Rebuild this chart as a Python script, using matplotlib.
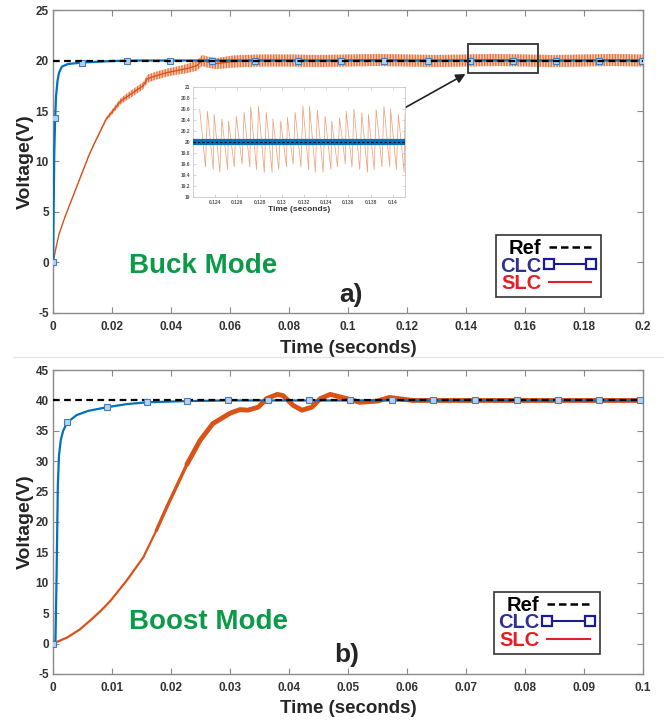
import numpy as np
import matplotlib
matplotlib.use('Agg')
import matplotlib.pyplot as plt
from matplotlib.lines import Line2D
from matplotlib.patches import Rectangle

plt.rcParams['font.family'] = ['Liberation Sans', 'DejaVu Sans']
plt.rcParams['font.weight'] = 'bold'
plt.rcParams['axes.unicode_minus'] = False

# ---------------- data (a) buck mode ----------------
ref_a = 20
clc_a_t = [0, 0.0002, 0.0004, 0.0007, 0.001, 0.0015, 0.002, 0.003, 0.005, 0.0098, 0.02, 0.03, 0.2]
clc_a_v = [0, 6, 11, 14.3, 16.5, 18.0, 18.8, 19.4, 19.65, 19.8, 19.95, 20, 20]
clc_a_mark_t = [0, 0.0007, 0.0098, 0.0251, 0.0397, 0.0539, 0.0685, 0.0831, 0.0976,
                0.1122, 0.1271, 0.1414, 0.1559, 0.1705, 0.1851, 0.1997]
clc_a_mark_v = [0, 14.3, 19.8, 19.95, 20, 20, 20, 20, 20, 20, 20, 20, 20, 20, 20, 20]

slc_a_t = [0, 0.001, 0.002, 0.004, 0.006, 0.008, 0.01, 0.012, 0.014, 0.016, 0.018,
           0.02, 0.023, 0.027, 0.0305, 0.032, 0.035, 0.0386, 0.042, 0.0454, 0.0488,
           0.0505, 0.053, 0.0556, 0.061, 0.07, 0.08, 0.09, 0.1, 0.11, 0.12, 0.13,
           0.14, 0.15, 0.16, 0.17, 0.18, 0.19, 0.2]
slc_a_v = [0, 1.5, 2.8, 4.5, 6.0, 7.5, 9.0, 10.5, 11.8, 13.0, 14.2,
           14.9, 16.0, 16.8, 17.5, 18.2, 18.5, 18.8, 19.0, 19.2, 19.5,
           20.0, 19.8, 19.7, 19.9, 20.0, 20.0, 19.95, 20.0, 20.05, 20.0, 19.95,
           20.0, 20.05, 20.0, 19.95, 20.0, 20.05, 20.0]
slc_a_half = [0, 0, 0, 0.05, 0.05, 0.08, 0.1, 0.1, 0.12, 0.14, 0.16,
              0.25, 0.3, 0.35, 0.35, 0.4, 0.4, 0.4, 0.4, 0.45, 0.5,
              0.55, 0.55, 0.55, 0.6, 0.6, 0.6, 0.6, 0.6, 0.6, 0.6, 0.6,
              0.6, 0.6, 0.6, 0.6, 0.6, 0.6, 0.6]

# inset ripple (zoomed window), one peak and one trough per switching cycle
ripple_peak_t = [0.1226, 0.1233, 0.1239, 0.1246, 0.1252, 0.1259, 0.1266, 0.1272,
                 0.1279, 0.1286, 0.1292, 0.1299, 0.1305, 0.1312, 0.1319, 0.1325,
                 0.1332, 0.1339, 0.1345, 0.1352, 0.1358, 0.1365, 0.1372, 0.1378,
                 0.1385, 0.1392, 0.1398, 0.1405, 0.1411]
ripple_peak_v = [20.60, 20.56, 20.50, 20.42, 20.38, 20.47, 20.54, 20.64, 20.65,
                 20.54, 20.42, 20.38, 20.45, 20.54, 20.65, 20.65, 20.58, 20.47,
                 20.38, 20.44, 20.56, 20.60, 20.53, 20.50, 20.59, 20.65, 20.60,
                 20.50, 20.53]
ripple_trough_v = [19.55, 19.50, 19.45, 19.50, 19.55, 19.60, 19.55, 19.50, 19.45,
                   19.45, 19.50, 19.55, 19.60, 19.55, 19.50, 19.45, 19.45, 19.50,
                   19.55, 19.60, 19.55, 19.50, 19.45, 19.50, 19.55, 19.55, 19.50,
                   19.45, 19.50]

# ---------------- data (b) boost mode ----------------
ref_b = 40
clc_b_t = [0, 0.0004, 0.0006, 0.0008, 0.001, 0.0013, 0.0017, 0.0024, 0.004, 0.006,
           0.0092, 0.0125, 0.0159, 0.0227, 0.0297, 0.04, 0.1]
clc_b_v = [0, 0.5, 12, 26, 31, 33.5, 35, 36.4, 37.6, 38.3, 38.9, 39.4, 39.7, 39.9, 40, 40, 40]
clc_b_mark_t = [0, 0.0024, 0.0092, 0.0159, 0.0227, 0.0297, 0.0364, 0.0434, 0.0503,
                0.0575, 0.0644, 0.0715, 0.0786, 0.0856, 0.0925, 0.0995]
clc_b_mark_v = [0, 36.4, 38.9, 39.7, 39.9, 40, 40, 40, 40, 40, 40, 40, 40, 40, 40, 40]

slc_b_t = [0, 0.0024, 0.0045, 0.0063, 0.008, 0.0097, 0.0125, 0.0153, 0.0175, 0.0193,
           0.0227, 0.0249, 0.0271, 0.030, 0.0317, 0.033, 0.0348, 0.0362, 0.038, 0.039,
           0.0407, 0.0422, 0.0439, 0.0453, 0.047, 0.0498, 0.052, 0.055, 0.057, 0.061,
           0.065, 0.07, 0.08, 0.09, 0.1]
slc_b_v = [0, 1, 2.3, 3.8, 5.3, 7, 10.4, 14.2, 18.6, 22.5,
           29.5, 33.4, 36.2, 37.9, 38.5, 38.4, 38.9, 40.3, 41, 40.8,
           39.2, 38.4, 38.9, 40.3, 41, 40.3, 39.7, 39.9, 40.5, 40,
           40, 40, 40, 40, 40]

xt_a = [0, 0.02, 0.04, 0.06, 0.08, 0.1, 0.12, 0.14, 0.16, 0.18, 0.2]
xt_a_lab = ['0', '0.02', '0.04', '0.06', '0.08', '0.1', '0.12', '0.14', '0.16', '0.18', '0.2']
xt_b = [0, 0.01, 0.02, 0.03, 0.04, 0.05, 0.06, 0.07, 0.08, 0.09, 0.1]
xt_b_lab = ['0', '0.01', '0.02', '0.03', '0.04', '0.05', '0.06', '0.07', '0.08', '0.09', '0.1']
xt_in = [0.124, 0.126, 0.128, 0.13, 0.132, 0.134, 0.136, 0.138, 0.14]
xt_in_lab = ['0.124', '0.126', '0.128', '0.13', '0.132', '0.134', '0.136', '0.138', '0.14']
yt_in = [19, 19.2, 19.4, 19.6, 19.8, 20, 20.2, 20.4, 20.6, 20.8, 21]
yt_in_lab = ['19', '19.2', '19.4', '19.6', '19.8', '20', '20.2', '20.4', '20.6', '20.8', '21']

# ---------------- style ----------------
c_blue = '#0072BD'
c_mface = '#b4d2ee'
c_medge = '#3f7fc0'
c_orange = '#D95319'
c_band = '#f3b592'
c_green = '#0a9a48'
c_spine = '#8a8a8a'
c_tick = '#333333'

fig = plt.figure(figsize=(6.64, 7.2), dpi=100)
ax1 = fig.add_axes([0.080, 0.5653, 0.888, 0.4208])
ax2 = fig.add_axes([0.080, 0.064, 0.888, 0.422])


def style(ax):
    for s in ax.spines.values():
        s.set_color(c_spine)
        s.set_linewidth(1.0)
    ax.tick_params(direction='in', top=True, right=True, length=4, width=0.8,
                   color=c_spine, labelsize=8.5, labelcolor=c_tick)
    ax.tick_params(axis='x', pad=6)
    ax.tick_params(axis='y', pad=3)
    for lab in ax.get_xticklabels() + ax.get_yticklabels():
        lab.set_fontweight('bold')


def legend(ax, anchor):
    h = [Line2D([], [], color='black', ls=(0, (3, 1.6)), lw=1.8),
         Line2D([], [], color='#1a1a9a', lw=1.5, marker='s', ms=7,
                mfc='white', mec='#1a1a9a', mew=1.6),
         Line2D([], [], color='#e31e24', lw=1.5)]
    leg = ax.legend(h, ['Ref', 'CLC', 'SLC'], loc='lower right',
                    bbox_to_anchor=anchor, numpoints=2, markerfirst=False,
                    prop={'weight': 'bold', 'size': 14.5},
                    labelcolor=['black', '#2e3192', '#e31e24'],
                    handlelength=2.7, handletextpad=0.1, labelspacing=-0.08,
                    borderpad=0.2, borderaxespad=0, fancybox=False, framealpha=1,
                    edgecolor='#333333')
    leg.get_frame().set_linewidth(1.2)


# ---- (a) ----
t_a = np.array(slc_a_t)
v_a = np.array(slc_a_v)
hw_a = np.array(slc_a_half)
ax1.fill_between(t_a, v_a - hw_a, v_a + hw_a, facecolor=c_band, edgecolor=c_orange,
                 hatch='||||||', linewidth=0, alpha=0.7, zorder=2)
ax1.plot(t_a, v_a, color=c_orange, lw=1.0, zorder=3)
ax1.plot(clc_a_t, clc_a_v, color=c_blue, lw=1.6, zorder=4)
ax1.plot(clc_a_mark_t, clc_a_mark_v, ls='none', marker='s', ms=4, mfc=c_mface,
         mec=c_medge, mew=0.8, zorder=5)
ax1.plot([0, 0.2], [ref_a, ref_a], color='black', ls=(0, (3, 2)), lw=1.6, zorder=6)
ax1.add_patch(Rectangle((0.1407, 18.8), 0.0237, 2.8, fill=False, ec='#333333', lw=1.3, zorder=7))
ax1.annotate('', xy=(0.1407, 18.8), xytext=(0.1186, 15.2),
             arrowprops=dict(arrowstyle='-|>', color='#222222', lw=1.2,
                             mutation_scale=14), zorder=7)
ax1.set_xlim(0, 0.2)
ax1.set_ylim(-5, 25)
ax1.set_xticks(xt_a)
ax1.set_xticklabels(xt_a_lab)
ax1.set_yticks([-5, 0, 5, 10, 15, 20, 25])
ax1.set_xlabel('Time (seconds)', fontsize=13.5, fontweight='bold', color='#262626', labelpad=5)
ax1.set_ylabel('Voltage(V)', fontsize=14, fontweight='bold', color='#262626', labelpad=1)
style(ax1)
legend(ax1, (0.930, 0.053))
ax1.text(0.128, 0.155, 'Buck Mode', transform=ax1.transAxes, color=c_green,
         fontsize=20, fontweight='bold', va='center')
ax1.text(0.485, 0.06, 'a)', transform=ax1.transAxes, color='#262626',
         fontsize=19, fontweight='bold', va='center')

# inset
axi = fig.add_axes([0.2907, 0.7264, 0.3193, 0.1526])
pt = np.array(ripple_peak_t)
rt = []
rv = []
for i in range(len(pt)):
    rt += [pt[i], pt[i] + 0.00052]
    rv += [ripple_peak_v[i], ripple_trough_v[i]]
axi.plot(rt, rv, color='#f0a37e', lw=0.55, zorder=2)
axi.plot([0.122, 0.1412], [ref_a, ref_a], color=c_blue, lw=4.5, zorder=3)
axi.plot([0.122, 0.1412], [ref_a, ref_a], color='black', ls=(0, (2, 2)), lw=0.8, zorder=4)
axi.set_xlim(0.122, 0.1411)
axi.set_ylim(19, 21)
axi.set_xticks(xt_in)
axi.set_xticklabels(xt_in_lab)
axi.set_yticks(yt_in)
axi.set_yticklabels(yt_in_lab)
for s in axi.spines.values():
    s.set_color('#c8c8c8')
    s.set_linewidth(0.6)
axi.tick_params(direction='in', top=True, right=True, length=2, width=0.5,
                color='#c8c8c8', labelsize=3.5, labelcolor='#555555', pad=2)
axi.set_xlabel('Time (seconds)', fontsize=6, fontweight='bold', color='#333333', labelpad=1)

# ---- (b) ----
ax2.plot(slc_b_t, slc_b_v, color=c_orange, lw=1.6, zorder=2)
ax2.plot(slc_b_t[8:], slc_b_v[8:], color=c_orange, lw=2.4, zorder=2,
         solid_capstyle='round')
ax2.plot(slc_b_t[10:], slc_b_v[10:], color=c_orange, lw=3.5, zorder=2,
         solid_capstyle='round')
ax2.plot(clc_b_t, clc_b_v, color=c_blue, lw=1.6, zorder=3)
ax2.plot(clc_b_mark_t, clc_b_mark_v, ls='none', marker='s', ms=4, mfc=c_mface,
         mec=c_medge, mew=0.8, zorder=5)
ax2.plot([0, 0.1], [ref_b, ref_b], color='black', ls=(0, (3, 2)), lw=1.6, zorder=4)
ax2.set_xlim(0, 0.1)
ax2.set_ylim(-5, 45)
ax2.set_xticks(xt_b)
ax2.set_xticklabels(xt_b_lab)
ax2.set_yticks(list(range(-5, 50, 5)))
ax2.set_xlabel('Time (seconds)', fontsize=13.5, fontweight='bold', color='#262626', labelpad=4)
ax2.set_ylabel('Voltage(V)', fontsize=14, fontweight='bold', color='#262626', labelpad=1)
style(ax2)
legend(ax2, (0.927, 0.066))
ax2.text(0.128, 0.172, 'Boost Mode', transform=ax2.transAxes, color=c_green,
         fontsize=20, fontweight='bold', va='center')
ax2.text(0.477, 0.062, 'b)', transform=ax2.transAxes, color='#262626',
         fontsize=19, fontweight='bold', va='center')

# faint separator between the two panels
fig.add_artist(Line2D([0.02, 1.0], [0.504, 0.504], color='#e6e6e6', lw=1.0))

fig.savefig('out.png', dpi=100)
